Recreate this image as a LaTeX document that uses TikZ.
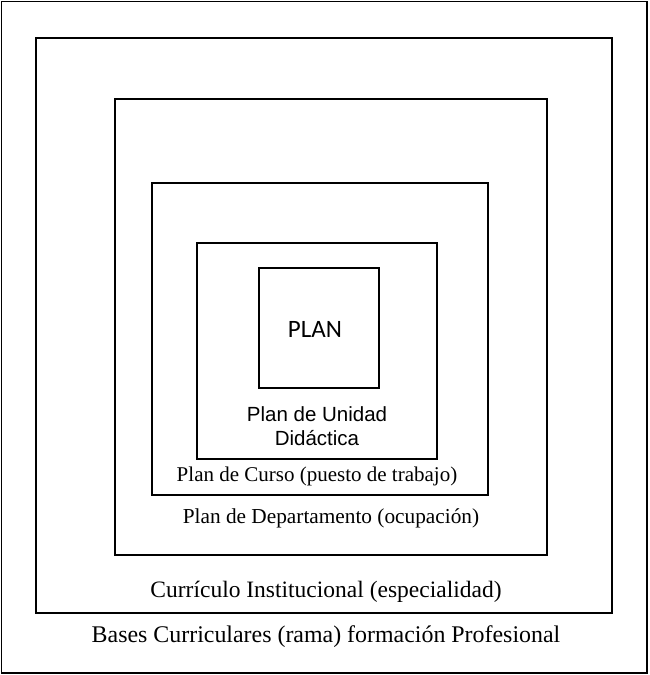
\documentclass[tikz,border=0pt]{standalone}
\usepackage{fontspec}
\setmainfont{Liberation Serif}
\newfontfamily\armfont{Liberation Sans}
\newfontfamily\calfont{Carlito}
\begin{document}
\begin{tikzpicture}[x=1pt,y=-1pt,
  frame/.style={draw=black,line width=1.8pt},
  serif/.style={anchor=base,inner sep=0pt},
  sans/.style={anchor=base,inner sep=0pt,font=\armfont\fontsize{20.5}{24}\selectfont,align=center}]
\useasboundingbox (0,0) rectangle (649,675);
% nested frames, outermost first
\draw[frame] (1.5,1.5) rectangle (647,673);
\draw[frame] (36,38) rectangle (612,613);
\draw[frame] (115,99) rectangle (547,555);
\draw[frame] (152,183) rectangle (488,495);
\draw[frame] (197,243) rectangle (437,459);
\draw[frame] (259,268) rectangle (379,388);
% labels
\node[anchor=base,inner sep=0pt,font=\calfont\fontsize{25}{28}\selectfont] (plan) at (315,337) {PLAN};
\node[sans] (unidad) at (317,421) {Plan de Unidad};
\node[sans] (didactica) at (317,445) {Didáctica};
\begin{scope}
  \clip (152,183) rectangle (488,485.5);
  \node[serif,font=\fontsize{21}{24}\selectfont] (curso) at (317,481) {Plan de Curso (puesto de trabajo)};
\end{scope}
\node[serif,font=\fontsize{21.3}{24}\selectfont] (depto) at (331,523) {Plan de Departamento (ocupación)};
\node[serif,font=\fontsize{23.5}{27}\selectfont] (curriculo) at (326,597) {Currículo Institucional (especialidad)};
\node[serif,font=\fontsize{23.9}{27}\selectfont] (bases) at (326,642) {Bases Curriculares (rama) formación Profesional};
\end{tikzpicture}
\end{document}
